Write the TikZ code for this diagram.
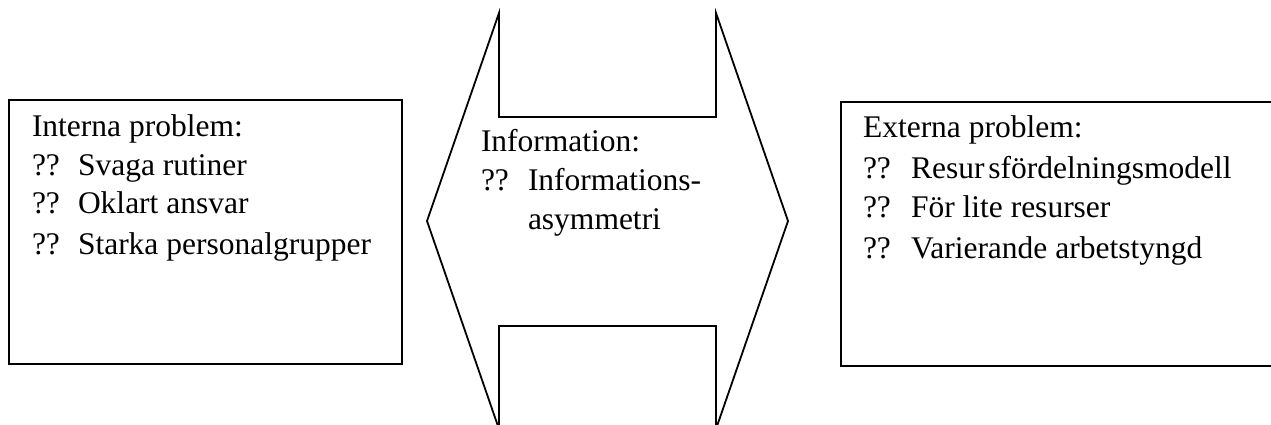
\documentclass[tikz,border=0pt]{standalone}
\usepackage{fontspec}
\setmainfont{Liberation Serif}
\begin{document}
\begin{tikzpicture}[x=1pt,y=-1pt,
  panel/.style={draw=black,line width=1.8pt,fill=white,inner sep=0pt,outer sep=0pt},
  txt/.style={anchor=base west,inner sep=0pt,outer sep=0pt,font=\fontsize{31.5}{38}\selectfont},
  outline/.style={draw=black,line width=1.8pt,line join=miter}]
\clip (0,0) rectangle (1271,425);
\useasboundingbox (0,0) rectangle (1271,425);
\fill[white] (0,0) rectangle (1271,425);

% left panel: internal problems
\node[panel,minimum width=393pt,minimum height=264pt] (intern) at (205.5,232) {};
\node[txt] (i0) at (32,137) {Interna problem:};
\node[txt] (i1q) at (32,175) {??};
\node[txt] (i1) at (78,175) {Svaga rutiner};
\node[txt] (i2q) at (32,213) {??};
\node[txt] (i2) at (78,213) {Oklart ansvar};
\node[txt] (i3q) at (32,254) {??};
\node[txt] (i3) at (78,254) {Starka personalgrupper};

% central double-headed block arrow
\coordinate (aw) at (427,221);
\coordinate (ae) at (788,221);
\draw[outline,fill=white] (aw) -- (499,13) -- (499,117) -- (716,117) -- (716,13)
  -- (ae) -- (716,429) -- (716,326) -- (499,326) -- (499,429) -- cycle;
\node[txt] (m0) at (481,151) {Information:};
\node[txt] (m1q) at (481,190) {??};
\node[txt] (m1) at (528,190) {Informations-};
\node[txt] (m2) at (528,229) {asymmetri};

% right panel: external problems
\node[panel,minimum width=440pt,minimum height=264pt] (extern) at (1061,234) {};
\node[txt] (e0) at (863,138) {Externa problem:};
\node[txt] (e1q) at (863,178) {??};
\node[txt] (e1) at (911,178) {Resur\hspace{4pt}sfördelningsmodell};
\node[txt] (e2q) at (863,217) {??};
\node[txt] (e2) at (911,217) {För lite resurser};
\node[txt] (e3q) at (863,258) {??};
\node[txt] (e3) at (911,258) {Varierande arbetstyngd};
\end{tikzpicture}
\end{document}
